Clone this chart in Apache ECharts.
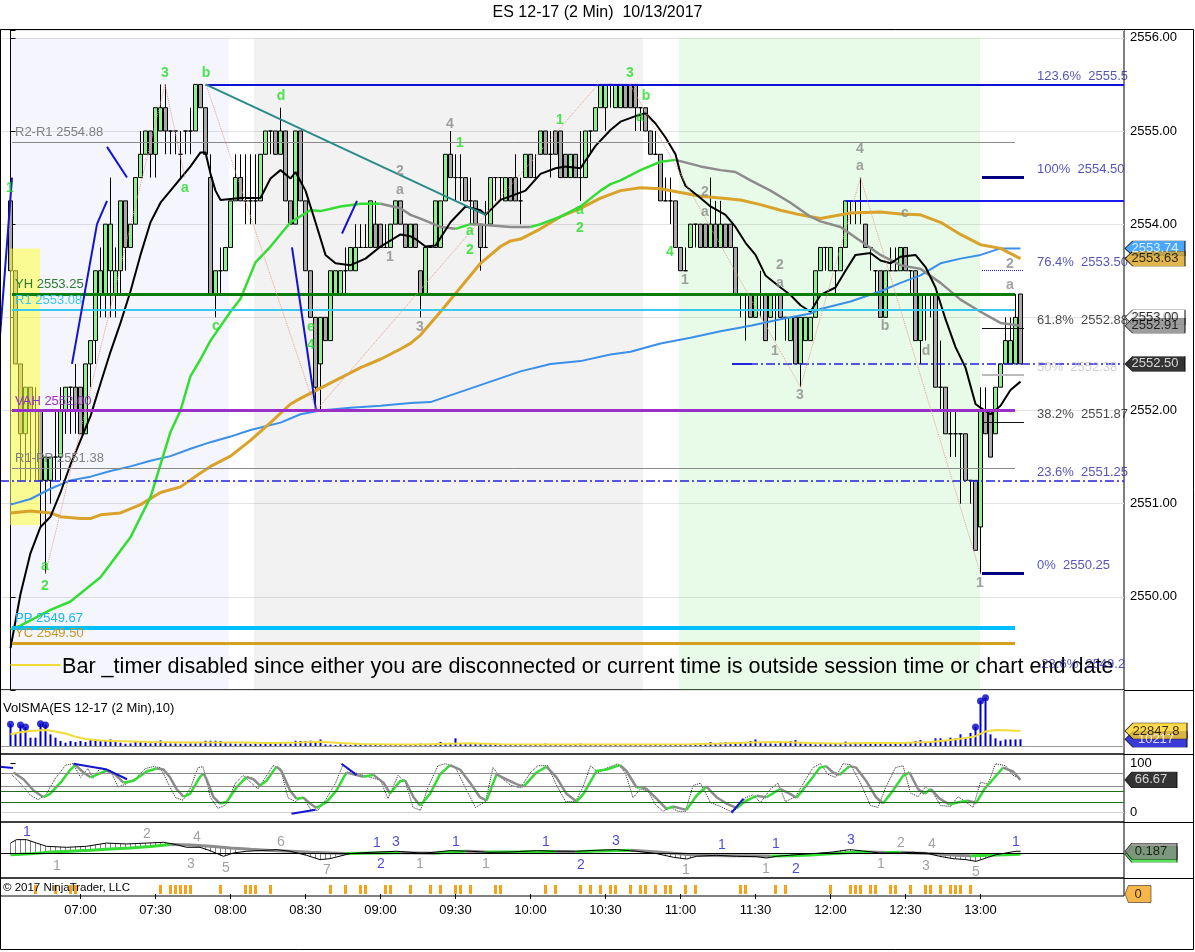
<!DOCTYPE html>
<html><head><meta charset="utf-8">
<script src="https://cdn.jsdelivr.net/npm/echarts@6/dist/echarts.min.js"></script>
<style>html,body{margin:0;padding:0;background:#fff;}#c{width:1195px;height:952px;}</style>
</head><body><div id="c"></div>
<script>
// ---------------- DATA ----------------
const sessionStart = '06:32';
const timeTicks = ['07:00','07:30','08:00','08:30','09:00','09:30','10:00','10:30','11:00','11:30','12:00','12:30','13:00'];
const priceTicks = [2550,2551,2552,2553,2554,2555,2556];

const opens = [
2554.25,2553.5,2552.5,2551.75,2552.25,2552,2552,2551.25,2551.25,2551.5,
2551.5,2552,2552.25,2552.25,2552.25,2551.75,2552.5,2552.75,2553.25,2553.25,
2553.5,2553.25,2553.5,2554.25,2553.75,2554,2554.5,2554.75,2555,2554.75,
2555,2555.25,2555,2555,2554.75,2555,2555,2555,2555.5,2555.25,
2554.5,2553.25,2553.5,2553.5,2553.75,2554.25,2554.5,2554.25,2554.25,2554.25,
2554.25,2554.75,2555,2555,2554.75,2555,2554.25,2554,2555,2554.25,
2553.5,2553,2552.5,2553,2552.75,2553.25,2553.25,2553.5,2553.5,2553.5,
2553.75,2553.75,2553.75,2554,2554,2553.75,2553.75,2554,2554.25,2554,
2553.75,2554,2553.5,2553.25,2553.75,2553.75,2553.75,2554.25,2554.75,2554.5,
2554.5,2554.5,2554.25,2554.25,2554,2553.75,2554,2554.5,2554.5,2554.25,
2554.5,2554.5,2554.25,2554.5,2554.75,2554.5,2554.75,2555,2554.75,2555,
2555,2554.75,2554.5,2554.75,2554.5,2554.5,2555,2555,2555.25,2555.25,
2555.5,2555.25,2555.25,2555.5,2555.5,2555.5,2555.25,2555.25,2555,2554.75,
2554.75,2554.25,2554.25,2554.25,2553.75,2553.5,2553.75,2554,2554,2554,
2553.75,2554,2553.75,2554,2554,2553.75,2553.25,2553.25,2553.25,2553,
2553.25,2553.25,2553,2553.25,2553.25,2553,2552.75,2553,2552.5,2552.75,
2552.75,2553,2553.5,2553.75,2553.5,2553.5,2553.5,2553.75,2554.25,2554.25,
2554.25,2554,2553.75,2553.5,2553.5,2553,2553.5,2553.5,2553.5,2553.75,
2553.5,2553.5,2552.75,2553.25,2553.25,2553.25,2552.25,2552.25,2551.75,2551.75,
2551.75,2551.75,2551.25,2551.25,2550.75,2552,2552,2551.75,2552.25,2552.5,
2552.5,2552.5,2553.25];
const closes = [
2553.5,2552.5,2551.75,2552.25,2552,2552,2551.25,2551.5,2551.5,2551.5,
2552,2552.25,2552.25,2552,2551.75,2552.5,2552.75,2553.5,2553.5,2554,
2554,2553.5,2554.25,2553.75,2554,2554.5,2554.75,2555,2554.75,2555.25,
2555.25,2555,2555,2555,2554.75,2555,2555,2555.5,2555.25,2554.75,
2553.25,2553.5,2553.5,2553.75,2554.25,2554.5,2554.25,2554.25,2554.25,2554.25,
2554.75,2555,2555,2554.75,2555,2554.25,2554,2555,2554.25,2553.5,
2553,2552.25,2553,2552.75,2553.5,2553.5,2553.5,2553.5,2553.75,2553.75,
2553.75,2553.75,2554.25,2553.75,2553.75,2553.75,2554,2554.25,2554,2553.75,
2554,2553.75,2553.25,2553.75,2553.75,2554.25,2554.25,2554.75,2554.5,2554.5,
2554.5,2554.25,2554.25,2554,2553.75,2553.75,2554.5,2554.5,2554.5,2554.5,
2554.25,2554.25,2554.25,2554.75,2554.5,2554.5,2555,2554.75,2554.75,2554.75,
2554.5,2554.5,2554.75,2554.5,2554.5,2555,2555,2555.25,2555.5,2555.5,
2555.5,2555.5,2555.5,2555.25,2555.25,2555.25,2555.25,2555,2554.75,2554.75,
2554.25,2554.25,2554.25,2553.75,2553.5,2553.5,2554,2554,2553.75,2553.75,
2554,2553.75,2554,2553.75,2553.75,2553.25,2553.25,2553.25,2553,2553.25,
2553.25,2552.75,2553.25,2553.25,2553,2553,2553,2552.5,2553,2553,
2553,2553.5,2553.75,2553.75,2553.75,2553.5,2553.75,2554.25,2554.25,2554.25,
2554.25,2553.75,2553.75,2553.5,2553,2553.5,2553.5,2553.5,2553.75,2553.5,
2553.5,2552.75,2553.25,2553.25,2553.25,2552.25,2552.25,2551.75,2551.75,2551.75,
2551.75,2551.25,2551.25,2550.5,2552,2551.75,2551.5,2552.25,2552.5,2552.75,
2552.75,2553,2552.5];
const lows = [
2553.5,2552.5,2551.25,2551.25,2551.25,2551.25,2550.75,2550.25,2551,2551.25,
2551.25,2551.75,2551.75,2551.75,2551.75,2551.75,2552.25,2552.5,2553,2553,
2553,2553,2553.25,2553.5,2553.75,2554,2554.5,2554.75,2554.5,2554.5,
2555,2554.75,2554.75,2554.75,2554.5,2554.75,2554.75,2555,2555.25,2554.75,
2553.25,2553,2553.25,2553.5,2553.75,2554.25,2554.25,2554,2554,2554,
2554.25,2554.75,2554.75,2554.75,2554.75,2554.25,2554,2554,2554.25,2553.5,
2553,2552,2552,2552.75,2552.75,2553.25,2553.25,2553.25,2553.5,2553.5,
2553.75,2553.75,2553.75,2553.75,2553.75,2553.75,2553.75,2554,2554,2553.75,
2553.75,2553.75,2553,2553.25,2553.75,2553.75,2553.75,2554.25,2554.5,2554.25,
2554.25,2554.25,2554,2554,2553.5,2553.75,2554,2554.25,2554.25,2554.25,
2554.25,2554.25,2554,2554.5,2554.5,2554.5,2554.75,2554.75,2554.5,2554.75,
2554.5,2554.5,2554.5,2554.5,2554.25,2554.5,2554.75,2555,2555.25,2555,
2555.25,2555.25,2555.25,2555.25,2555.25,2555,2555,2555,2554.75,2554.75,
2554.25,2554.25,2554,2553.75,2553.5,2553.5,2553.75,2553.75,2553.75,2553.75,
2553.75,2553.75,2553.75,2553.75,2553.75,2553.25,2553,2552.75,2553,2553,
2553,2552.75,2553,2552.75,2553,2552.75,2552.75,2552.5,2552.25,2552.75,
2552.75,2553,2553.5,2553.5,2553.5,2553.25,2553.5,2553.75,2554,2554,
2554,2553.75,2553.5,2553.25,2553,2553,2553.5,2553.5,2553.5,2553.5,
2553.25,2552.75,2552.5,2552.75,2553,2552.25,2552,2551.75,2551.5,2551.5,
2551,2551.25,2551,2550.5,2550.25,2551.75,2551.5,2551.75,2552.25,2552.5,
2552.5,2552.5,2552.5];
const highs = [
2554.25,2553.5,2552.5,2552.25,2552.25,2552.25,2552,2551.5,2551.5,2552,
2552.25,2552.25,2552.25,2552.5,2552.25,2552.5,2552.75,2553.5,2553.75,2554,
2554.5,2553.75,2554.25,2554.25,2554,2554.5,2555,2555,2555,2555.25,
2555.5,2555.5,2555,2555,2555,2555,2555.25,2555.5,2555.5,2555.25,
2554.75,2553.5,2553.75,2553.75,2554.25,2554.75,2554.75,2554.75,2554.75,2554.75,
2554.75,2555,2555,2555,2555.25,2555,2554.25,2555,2555,2554.25,
2553.5,2553,2553,2553,2553.5,2553.5,2553.5,2553.75,2553.75,2554,
2554,2554,2554.25,2554.25,2554,2554,2554,2554.25,2554.25,2554,
2554,2554,2553.5,2553.75,2553.75,2554.25,2554.25,2554.75,2555,2554.75,
2554.75,2554.5,2554.5,2554.25,2554,2554.25,2554.5,2554.5,2554.5,2554.5,
2554.5,2554.75,2554.5,2554.75,2554.75,2554.75,2555,2555,2555,2555,
2555,2554.75,2554.75,2554.75,2555,2555,2555,2555.25,2555.5,2555.5,
2555.5,2555.5,2555.5,2555.5,2555.5,2555.5,2555.25,2555.25,2555,2555,
2554.75,2554.5,2554.5,2554.25,2553.75,2553.75,2554,2554,2554,2554,
2554.5,2554.25,2554.25,2554,2554,2553.75,2553.25,2553.25,2553.25,2553.25,
2553.5,2553.25,2553.25,2553.25,2553.25,2553,2553,2553,2553,2553,
2553,2553.5,2553.75,2553.75,2553.75,2553.5,2553.75,2554.25,2554.25,2554.25,
2554.5,2554,2553.75,2553.5,2553.5,2553.5,2553.75,2553.75,2553.75,2553.75,
2553.5,2553.5,2553.25,2553.25,2553.25,2553.25,2552.75,2552.25,2552,2552,
2551.75,2551.75,2551.25,2551.25,2552.25,2552.25,2552,2552.25,2552.5,2553,
2553,2553.25,2553.25];

// moving averages: [bar, price]
const maFast = [[0,2549.45],[2,2550.03],[4,2550.47],[6,2550.75],[8,2550.86],[10,2551.12],[12,2551.42],[14,2551.68],[16,2551.94],[18,2552.29],[20,2552.63],[22,2552.94],[24,2553.28],[26,2553.67],[28,2554.02],[30,2554.23],[32,2554.36],[34,2554.49],[36,2554.62],[38,2554.77],[39,2554.77],[40,2554.54],[41,2554.36],[42,2554.26],[46,2554.28],[50,2554.28],[52,2554.49],[54,2554.58],[56,2554.49],[57,2554.56],[59,2554.36],[61,2554.02],[63,2553.67],[65,2553.58],[68,2553.56],[71,2553.63],[74,2553.76],[78,2553.89],[80,2553.87],[81,2553.84],[83,2553.76],[85,2553.77],[88,2554.02],[91,2554.19],[94,2554.15],[95,2554.10],[98,2554.26],[101,2554.32],[103,2554.36],[106,2554.54],[109,2554.60],[111,2554.62],[114,2554.60],[117,2554.84],[120,2555.01],[122,2555.10],[125,2555.16],[127,2555.19],[129,2555.08],[131,2554.93],[133,2554.75],[134,2554.54],[135,2554.41],[138,2554.28],[140,2554.19],[143,2554.10],[145,2553.97],[147,2553.80],[149,2553.67],[151,2553.45],[154,2553.32],[156,2553.24],[158,2553.13],[160,2553.06],[162,2553.24],[165,2553.32],[167,2553.50],[169,2553.67],[172,2553.69],[174,2553.61],[176,2553.58],[178,2553.65],[181,2553.67],[183,2553.54],[185,2553.32],[187,2552.98],[189,2552.68],[191,2552.46],[193,2552.07],[194,2552.03],[196,2551.96],[198,2552.05],[200,2552.22],[202,2552.31]];
const maMid = [[0,2549.65],[2,2549.69],[8,2549.86],[12,2549.95],[18,2550.21],[24,2550.64],[28,2551.07],[32,2551.77],[34,2552.0],[36,2552.37],[38,2552.55],[40,2552.75],[44,2553.06],[46,2553.2],[49,2553.59],[52,2553.76],[56,2554.02],[60,2554.15],[62,2554.14],[66,2554.19],[70,2554.22],[74,2554.22],[78,2554.17],[80,2554.10],[82,2554.06],[86,2553.97],[89,2553.95],[92,2554.0],[95,2553.99],[100,2553.97],[104,2553.97],[106,2554.0],[110,2554.08],[114,2554.19],[118,2554.36],[120,2554.43],[122,2554.47],[126,2554.58],[130,2554.67],[133,2554.69],[138,2554.62],[142,2554.58],[145,2554.56],[148,2554.47],[152,2554.36],[156,2554.23],[160,2554.08],[162,2554.03],[166,2553.97],[170,2553.82],[174,2553.67],[178,2553.56],[182,2553.52],[186,2553.37],[190,2553.19],[194,2553.06],[198,2552.94],[202,2552.91]];
const maMidGreenRanges = [[0,74],[89,92],[104,133]];
const maSlow = [[0,2550.90],[4,2550.92],[8,2550.90],[10,2550.86],[14,2550.84],[16,2550.84],[18,2550.88],[22,2550.90],[26,2550.99],[30,2551.12],[34,2551.18],[38,2551.33],[40,2551.40],[44,2551.51],[48,2551.68],[52,2551.87],[56,2552.07],[58,2552.13],[62,2552.24],[66,2552.35],[70,2552.46],[74,2552.55],[78,2552.66],[80,2552.72],[82,2552.81],[86,2553.06],[90,2553.32],[94,2553.58],[98,2553.76],[100,2553.82],[102,2553.84],[106,2553.95],[110,2554.08],[114,2554.17],[118,2554.28],[120,2554.32],[122,2554.36],[126,2554.39],[130,2554.38],[134,2554.34],[138,2554.30],[142,2554.28],[146,2554.26],[150,2554.21],[154,2554.15],[158,2554.10],[162,2554.06],[168,2554.12],[174,2554.13],[178,2554.11],[182,2554.10],[186,2554.02],[190,2553.89],[194,2553.78],[198,2553.74],[202,2553.63]];
const maLong = [[0,2550.99],[4,2551.05],[8,2551.16],[12,2551.25],[16,2551.29],[20,2551.35],[24,2551.40],[28,2551.46],[32,2551.51],[36,2551.59],[40,2551.66],[44,2551.72],[48,2551.79],[54,2551.87],[58,2551.96],[62,2552.0],[68,2552.03],[74,2552.05],[80,2552.08],[84,2552.09],[90,2552.20],[96,2552.31],[102,2552.42],[108,2552.50],[114,2552.53],[120,2552.60],[124,2552.63],[130,2552.72],[136,2552.78],[142,2552.85],[148,2552.91],[154,2552.98],[160,2553.04],[162,2553.09],[168,2553.17],[174,2553.28],[178,2553.37],[182,2553.45],[186,2553.58],[190,2553.63],[194,2553.67],[198,2553.74],[202,2553.74]];

// horizontal levels
const levelNames  = ['R2-R1','YH','R1','VAH','R1-PP','PP','YC'];
const levelPrices = [2554.88,2553.25,2553.08,2552.00,2551.38,2549.67,2549.50];
const fibTexts  = ['123.6%  2555.5','100%  2554.50','76.4%  2553.50','61.8%  2552.88','50%  2552.38','38.2%  2551.87','23.6%  2551.25','0%  2550.25','-23.6%  2549.2'];
const fibPrices = [2555.5,2554.5,2553.5,2552.88,2552.38,2551.87,2551.25,2550.25,2549.19];
const lastPrices = {ma34:2553.74, ma50:2553.63, r1:2553.00, ma21:2552.91, last:2552.50};

// drawn objects (bar, price)
const trendTeal = [[39,2555.5],[95,2554.1]];
const blueSegs = [[[-2.1,2552.8],[0.3,2554.5]],[[12.3,2552.5],[17.3,2554.0]],[[17.3,2554.0],[19.3,2554.25]],[[19.3,2554.83],[23.3,2554.5]],[[56.3,2553.75],[61.1,2552.0]],[[66.3,2553.9],[69.3,2554.25]]];
const zigzag = [[[7,2550.25],[30.9,2555.5]],[[30.9,2555.5],[34.9,2554.5]],[[39.1,2555.5],[61.1,2552.0]],[[61.1,2552.0],[117.5,2555.5]],[[123.9,2555.5],[158,2552.25]],[[158,2552.25],[170,2554.5]],[[170,2554.5],[194,2550.25]]];
const greenWave = [[30.9,2555.62,'3'],[39.1,2555.62,'b'],[34.9,2554.39,'a'],[6.9,2550.33,'a'],[6.9,2550.11,'2'],[-0.1,2554.39,'1'],[54.1,2555.37,'d'],[41.1,2552.91,'c'],[60.1,2552.90,'e'],[60.1,2552.70,'4'],[89.9,2554.87,'1'],[91.9,2553.92,'a'],[91.9,2553.72,'2'],[109.9,2555.12,'1'],[113.9,2554.15,'a'],[113.9,2553.96,'2'],[123.9,2555.62,'3'],[127.1,2555.37,'b'],[125.9,2555.15,'a'],[131.9,2553.70,'4']];
const grayWave = [[77.9,2554.57,'2'],[77.9,2554.37,'a'],[75.9,2553.65,'1'],[81.9,2552.90,'3'],[87.9,2555.07,'4'],[134.9,2553.40,'1'],[138.9,2554.34,'2'],[138.9,2554.13,'a'],[153.9,2553.56,'2'],[153.9,2553.37,'a'],[152.9,2552.64,'1'],[157.9,2552.17,'3'],[169.9,2554.81,'4'],[169.9,2554.62,'a'],[174.9,2552.91,'b'],[178.9,2554.12,'c'],[183.1,2552.64,'d'],[193.9,2550.15,'1'],[199.9,2553.57,'2'],[199.9,2553.35,'a']];

// volume
const volume = [
33000,18000,32000,29000,12700,12700,34000,32000,17700,12700,
7600,5000,7600,6000,7600,6000,9000,7600,7600,7600,
10000,6000,5000,3500,4000,7600,7600,5000,4000,5000,
8500,5000,4000,4000,3500,3500,4000,4000,5000,8000,
8000,8000,7600,5000,4000,3500,3500,4000,3000,3500,
3500,4000,4000,3500,6000,4000,3500,8000,7600,7600,
8000,7600,10000,2500,2000,1500,2500,2000,1500,2500,
2000,2500,1500,2000,2500,2000,1500,2500,2000,3000,
2500,2000,3500,2000,2500,3000,6000,3500,3000,11700,
4000,3500,3000,3500,3000,2500,3500,2500,2000,2500,
2000,1500,2000,2500,2000,1500,2000,3500,2000,2500,
1500,2000,2500,2000,3500,2500,2000,2500,2000,3000,
2500,2000,2500,2000,2500,3000,2000,2500,2000,2500,
2000,2500,3000,2500,2000,2500,2000,3000,2000,2500,
6000,4000,5000,6000,4000,6000,5000,4000,7600,10000,
5000,4000,4000,3500,4500,5000,7600,9000,4000,3500,
3000,2500,3000,3500,3000,3500,3000,6600,4000,5000,
4000,4500,5000,5000,4000,3500,4000,4500,5000,6000,
5000,7600,9000,6000,5000,11700,11700,8000,12700,11700,
17800,12700,20000,29000,68500,73600,17800,11700,8000,10000,
10000,10000,10217];
const volDotBars = [0,2,3,6,7,193,194,195];
const volSma = [[0,18000],[2,21000],[4,23000],[7,24500],[9,22000],[11,19000],[13,14000],[15,10500],[18,8200],[22,7300],[28,6000],[34,5200],[40,5500],[46,5300],[52,4500],[58,5500],[62,6500],[66,4500],[70,3000],[76,2200],[82,2300],[88,3500],[92,4200],[98,2800],[106,2300],[116,2400],[126,2400],[136,2500],[142,3800],[148,5500],[154,6000],[160,4500],[166,3700],[172,4500],[178,4600],[184,6000],[188,9000],[191,12000],[193,15000],[195,22000],[197,24500],[199,24000],[202,22847.8]];

// stochastics
const stochD = [[0.6,82],[2.6,68],[4.6,45],[6.6,31],[7.9,38],[10,61],[12,88],[13,97],[14.6,82],[16,72],[17.2,77],[19.2,86],[20.9,78],[22.6,61],[24.6,65],[27.2,84],[29.2,90],[30.6,88],[31.9,72],[33.2,48],[34.6,32],[35.9,38],[37.9,73],[38.6,80],[39.2,68],[40.6,31],[41.9,18],[43.2,21],[45.2,51],[47.2,73],[48.6,68],[49.9,55],[51.2,65],[53.2,94],[54.2,85],[55.9,45],[57.2,28],[58.6,30],[59.9,18],[61.2,9],[63.2,21],[65.2,45],[67.2,82],[68.6,78],[70.6,73],[72.6,77],[74.6,61],[75.9,39],[77.9,64],[78.9,66],[80.6,31],[81.9,14],[83.9,38],[85.9,78],[87.9,97],[89.9,88],[91.9,61],[93.9,31],[95.2,24],[97.2,78],[99.2,68],[101.2,58],[102.6,53],[105.2,82],[107.2,94],[109.2,72],[111.2,38],[113.2,22],[114.6,38],[117.2,85],[119.2,88],[121.9,97],[123.2,85],[125.2,51],[126.2,52],[127.2,48],[129.2,28],[131.2,7],[132.5,12],[134,8],[135.2,5],[137.2,34],[139.2,53],[141.2,31],[143.2,18],[145.2,9],[147.2,24],[149.2,34],[151.2,31],[153.9,48],[155.9,38],[157.2,30],[159.9,65],[161.9,92],[163.1,95],[164.5,82],[165.8,77],[167.8,95],[169.1,92],[171.1,65],[173.1,31],[174.5,18],[176.5,45],[178.5,75],[179.8,82],[181.5,48],[182.8,38],[184.1,48],[185.8,28],[187.8,16],[189.8,21],[191.5,24],[193.1,19],[194.8,48],[196.5,68],[198.5,92],[200.5,84],[202,66.67]];
const stochK = [[0,80],[2,60],[4,35],[5.5,26],[7,35],[9,70],[11,97],[12.5,100],[14,72],[15.5,90],[16.5,70],[18,92],[20,86],[21.5,52],[23,58],[25,70],[27,90],[28.5,94],[30,92],[31.5,60],[33,30],[34.5,25],[36,50],[37.5,92],[38.5,94],[40,30],[41.5,8],[43,15],[45,60],[46.5,76],[48,62],[49.5,48],[51,72],[52.5,96],[54,90],[55.5,30],[57,22],[58.5,32],[60,6],[61.5,4],[63,25],[65,60],[66.5,98],[68,84],[70,78],[72,72],[74,66],[75.5,28],[77.5,76],[79,62],[80.5,10],[82,4],[83.5,52],[85.5,96],[87,100],[89,92],[91,50],[93,10],[95,22],[96.5,92],[98,72],[100,56],[102,50],[104,82],[105.5,96],[107.5,96],[109,60],[111,22],[113,22],[114.5,52],[116,96],[117.5,82],[119,90],[121.5,100],[123,80],[124.5,30],[126,48],[127.5,44],[129,16],[130.5,2],[132,10],[133.5,2],[135,2],[136.5,55],[138,60],[140,20],[142,12],[144,2],[145.5,8],[147,30],[148.5,36],[150,20],[152,48],[153.5,60],[155,22],[157,32],[158.5,58],[160.5,92],[162,100],[163.5,78],[165,72],[166.5,100],[168,98],[170,60],[172,14],[173.5,10],[175,50],[177,92],[178.5,96],[180,40],[181.5,32],[183,52],[184.5,40],[186,14],[188,12],[189.5,32],[191,22],[192.5,10],[194,62],[195.5,58],[197,100],[199,96],[200.5,76],[202,70]];
const stochLevels = [80,53,44,20,0];
const stochBlue = [[[-2.1,94],[0.5,91]],[[12.6,100],[19.3,88]],[[19.3,88],[23.3,68]],[[56.2,-3],[61,5]],[[66.2,100],[69.2,77]],[[144.2,-1],[146.6,28]]];

// oscillator
const oscLine = [[0,1.1],[1.2,1.48],[3.2,1.48],[5.2,1.1],[7.2,0.74],[11.2,0.63],[15.2,0.74],[19.2,1.1],[23.2,1.0],[27.2,1.1],[30.6,1.18],[33.2,0.93],[35.2,0.63],[37.9,0.63],[39.9,0.26],[42.6,-0.37],[44.6,0],[47.2,0.19],[49.9,0.26],[53.2,0.37],[55.9,0.19],[59.2,-0.26],[61.9,-0.74],[63.9,-0.63],[67.9,-0.07],[71.9,0.07],[77.2,0.19],[81.9,0],[83.9,0.04],[87.9,0.26],[91.9,0.19],[95.9,0.07],[99.9,0.11],[105.2,0.26],[109.2,0.19],[113.2,0.19],[117.2,0.3],[121.2,0.37],[125.2,0.19],[129.2,-0.07],[132.6,-0.48],[135.2,-0.67],[137.2,-0.37],[141.2,-0.26],[145.2,-0.37],[149.2,-0.41],[151.2,-0.56],[153.2,-0.37],[157.2,-0.19],[161.2,-0.04],[164.5,0.11],[167.8,0.37],[171.1,0.19],[173.8,0],[177.8,0],[180.5,0.07],[183.1,0],[185.8,-0.37],[188.5,-0.63],[191.1,-0.74],[193.1,-0.93],[195.1,-0.56],[197.1,-0.19],[199.1,0],[201.1,0.19],[202,0.187]];
const oscSignal = [[0,-0.19],[4,-0.1],[8,0.1],[12,0.2],[16,0.3],[20,0.45],[24,0.56],[28,0.72],[32,0.93],[36,0.88],[40,0.74],[44,0.55],[48,0.4],[52,0.28],[56,0.18],[60,0.07],[64,0.0],[67,-0.07],[70,-0.03],[74,0.0],[78,0.02],[82,0.0],[85,-0.02],[88,0.12],[91,0.2],[93,0.15],[95,0.1],[98,0.12],[102,0.13],[106,0.15],[109,0.17],[111,0.15],[113,0.12],[116,0.18],[120,0.26],[124,0.3],[128,0.15],[132,0.0],[136,-0.2],[140,-0.28],[144,-0.3],[148,-0.32],[152,-0.35],[156,-0.3],[160,-0.22],[164,-0.1],[168,0.05],[172,0.1],[175,0.05],[178,0.07],[181,0.0],[185,-0.08],[189,-0.25],[192,-0.32],[196,-0.26],[199,-0.2],[202,-0.15]];
const oscHatch = [[0,1.1,-0.19],[1,1.4,-0.17],[2,1.48,-0.15],[3,1.48,-0.12],[4,1.35,-0.1],[5,1.15,-0.05],[6,0.95,0],[7,0.78,0.1],[8,0.72,0.1],[9,0.68,0.12],[10,0.65,0.15],[11,0.63,0.18],[12,0.64,0.2],[13,0.66,0.22],[14,0.7,0.25],[15,0.74,0.28],[16,0.8,0.3],[17,0.9,0.33],[18,1.0,0.36],[19,1.1,0.4],[20,1.08,0.45],[21,1.05,0.48],[22,1.02,0.52],[23,1.0,0.55],[24,1.02,0.58],[25,1.05,0.62],[26,1.08,0.66],[27,1.1,0.7],[28,1.12,0.75],[29,1.15,0.8],[30,1.18,0.86],[31,1.1,0.9],[32,1.0,0.93],
[39,0.3,0.78],[40,0.1,0.74],[41,-0.15,0.7],[42,-0.35,0.65],[43,-0.3,0.6],[44,-0.05,0.55],[45,0.05,0.52],
[58,-0.1,0.1],[59,-0.26,0.08],[60,-0.45,0.07],[61,-0.65,0.06],[62,-0.74,0.05],[63,-0.7,0.03],[64,-0.55,0.0],[65,-0.4,-0.03],[66,-0.25,-0.07],
[129,-0.07,0.12],[130,-0.2,0.08],[131,-0.3,0.05],[132,-0.45,0],[133,-0.58,-0.07],[134,-0.64,-0.12],[135,-0.67,-0.2],[136,-0.55,-0.25],[137,-0.37,-0.27],
[165,0.2,-0.08],[166,0.3,-0.05],[167,0.35,0],[168,0.37,0.05],[169,0.3,0.07],[170,0.25,0.09],
[184,-0.1,-0.05],[185,-0.3,-0.08],[186,-0.45,-0.12],[187,-0.55,-0.16],[188,-0.63,-0.2],[189,-0.68,-0.25],[190,-0.72,-0.3],[191,-0.75,-0.3],[192,-0.85,-0.3],[193,-0.93,-0.3],[194,-0.75,-0.3],[195,-0.56,-0.28],[196,-0.4,-0.25]];
const oscBlueLabels = [[3.3,2.33,'1'],[73.3,1.11,'1'],[77.1,1.22,'3'],[89.1,1.22,'1'],[107.1,1.22,'1'],[121.1,1.33,'3'],[142.3,0.89,'1'],[153.1,1.0,'1'],[168.1,1.44,'3'],[201.1,1.22,'1'],[74.1,-1.22,'2'],[114.1,-1.33,'2'],[157.1,-1.78,'2']];
const oscGrayLabels = [[9.3,-1.44,'1'],[27.3,2.11,'2'],[37.3,1.78,'4'],[36.1,-1.22,'3'],[43.1,-1.67,'5'],[54.1,1.22,'6'],[63.3,-1.89,'7'],[81.9,-1.22,'1'],[95.1,-1.22,'1'],[135.1,-1.89,'1'],[151.1,-1.78,'1'],[174.1,-1.22,'1'],[178.1,1.11,'2'],[184.3,1.0,'4'],[183.1,-1.44,'3'],[193.1,-2.1,'5']];

// orange signal markers
const signalBars = [5,9,12,13,30,32,33,34,35,36,42,47,48,49,52,64,67,70,71,75,76,80,84,86,89,90,92,97,98,107,109,114,116,118,120,121,124,126,127,129,131,132,135,137,146,147,153,155,164,168,169,170,172,173,176,177,180,183,184,186,188,189,190,192];

// ---------------- CHART ----------------
const FONT = "Arial, 'Liberation Sans', Helvetica, sans-serif";
const X_MIN = -2.1, X_MAX = 222.7;
const toMin = t => { const a = t.split(':').map(Number); return a[0]*60 + a[1]; };
const tickIdx = timeTicks.map(t => (toMin(t) - toMin(sessionStart)) / 2);

const GREEN = '#33dd33', GRAY = '#8c8c8c';
function colorRuns(pts, colorOf) {
  const runs = []; let cur = null, prev = null;
  for (let j = 0; j < pts.length - 1; j++) {
    const c = colorOf(pts[j], pts[j+1], prev); prev = c;
    if (cur && cur.color === c) cur.pts.push(pts[j+1]);
    else { cur = {color: c, pts: [pts[j], pts[j+1]]}; runs.push(cur); }
  }
  return runs;
}
const slopeColor = (a, b, prev) => b[1] > a[1] ? GREEN : (b[1] < a[1] ? GRAY : (prev || GREEN));
const inGreen = (a, b) => { const m = (a[0]+b[0])/2; return maMidGreenRanges.some(r => m >= r[0] && m <= r[1]) ? GREEN : GRAY; };
function runSeries(runs, g, w, z) {
  return runs.map(r => ({type:'line', xAxisIndex:g, yAxisIndex:g, data:r.pts, showSymbol:false, symbol:'none', silent:true, z:z, lineStyle:{color:r.color, width:w}}));
}
function lineSeries(pts, g, color, w, z, type) {
  return {type:'line', xAxisIndex:g, yAxisIndex:g, data:pts, showSymbol:false, symbol:'none', silent:true, z:z, lineStyle:{color:color, width:w, type:type||'solid'}};
}
function seg(p1, p2, style, label) {
  return [{coord:p1, lineStyle:style, label: label || {show:false}}, {coord:p2}];
}
function textSeries(g, items, color, size, weight, z) {
  return {type:'scatter', xAxisIndex:g, yAxisIndex:g, symbolSize:0, silent:true, z:z||6,
    data: items.map(d => ({name:d[2], value:[d[0], d[1]]})),
    label:{show:true, position:'inside', formatter:p => p.name, color:color, fontSize:size, fontWeight:weight, fontFamily:FONT}};
}
const TAG_PATH = 'path://M0,8L8,0L62,0L62,16L8,16Z';
function tagSeries(g, tags, size) {
  return {type:'scatter', xAxisIndex:g, yAxisIndex:g, clip:false, silent:true, z:20,
    symbol:TAG_PATH, symbolSize:size, symbolKeepAspect:false, symbolOffset:[size[0]/2 + 1, 0],
    data: tags.map(t => ({name:t[1], value:[X_MAX, t[0]], itemStyle:{color:t[2], borderColor:'#000', borderWidth:0.6}, label:{color:t[3]}})),
    label:{show:true, position:'inside', formatter:p => p.name, fontSize:13, fontFamily:FONT}};
}

const grids = [
  {left:0, width:1124, top:30, height:660},
  {left:0, width:1124, top:690, height:64},
  {left:0, width:1124, top:754, height:68},
  {left:0, width:1124, top:822, height:56},
  {left:0, width:1124, top:878, height:18}
].map(g => Object.assign(g, {show:true, borderColor:'#000', borderWidth:1, containLabel:false}));

const xAxes = grids.map((g, k) => {
  const bottom = k === 4;
  return {type:'value', gridIndex:k, min:X_MIN, max:X_MAX, axisLine:{show:false}, splitLine:{show:false},
    axisTick: bottom ? {show:true, customValues:tickIdx, length:5, lineStyle:{color:'#000'}} : {show:false},
    axisLabel: bottom ? {show:true, customValues:tickIdx, formatter:v => timeTicks[tickIdx.indexOf(Math.round(v))] || '', color:'#000', fontSize:13, fontFamily:FONT, margin:8} : {show:false}};
});
const yAxes = [
  {type:'value', gridIndex:0, position:'right', min:2549, max:2556.084, interval:1,
   axisLine:{show:true, lineStyle:{color:'#000'}}, axisTick:{show:true, length:5, lineStyle:{color:'#000'}},
   axisLabel:{formatter:v => priceTicks.indexOf(v) >= 0 ? v.toFixed(2) : '', color:'#000', fontSize:13, fontFamily:FONT, margin:6},
   splitLine:{show:true, lineStyle:{color:'#e3e3e3'}}},
  {type:'value', gridIndex:1, position:'right', min:-12200, max:85300, axisLine:{show:false}, axisTick:{show:false}, axisLabel:{show:false}, splitLine:{show:false}},
  {type:'value', gridIndex:2, position:'right', min:-20, max:120, interval:20, axisLine:{show:false},
   axisTick:{show:true, customValues:[0,100], length:5, lineStyle:{color:'#000'}},
   axisLabel:{customValues:[0,100], color:'#000', fontSize:13, fontFamily:FONT, margin:6}, splitLine:{show:false}},
  {type:'value', gridIndex:3, position:'right', min:-2.78, max:3.44, axisLine:{show:false}, axisTick:{show:false}, axisLabel:{show:false}, splitLine:{show:false}},
  {type:'value', gridIndex:4, position:'right', min:-0.25, max:2, axisLine:{show:false}, axisTick:{show:false}, axisLabel:{show:false}, splitLine:{show:false}}
];

// --- main panel marklines ---
const levelStyle = [['#8a8a8a',1],['#0a7d0a',3],['#38c8f0',2],['#9b30c8',3],['#8a8a8a',1],['#00bfff',4],['#d4a020',3]];
const levelLabelColor = ['#808080','#2e7d2e','#38c8f0','#9b30c8','#808080','#19b5ef','#c9971c'];
const mainLines = [];
levelPrices.forEach((v, k) => {
  mainLines.push(seg([0.3, v], [200.9, v], {color:levelStyle[k][0], width:levelStyle[k][1], type:'solid'},
    {show:true, position:'insideStartTop', distance:3, formatter: levelNames[k] + ' ' + v.toFixed(2), color:levelLabelColor[k], fontSize:13, fontFamily:FONT}));
});
const DASHDOT = [9,3,2,3];
mainLines.push(seg([39, fibPrices[0]], [X_MAX, fibPrices[0]], {color:'#1010d8', width:2, type:'solid'}));
mainLines.push(seg([167, 2554.25], [X_MAX, 2554.25], {color:'#1a1aee', width:2, type:'solid'}));
mainLines.push(seg([144.3, lastPrices.last], [X_MAX, lastPrices.last], {color:'#2222dd', width:1.5, type:DASHDOT}));
mainLines.push(seg([144.3, lastPrices.last], [148.3, lastPrices.last], {color:'#2222dd', width:2, type:'solid'}));
mainLines.push(seg([X_MIN, fibPrices[6]], [X_MAX, fibPrices[6]], {color:'#2222dd', width:1.5, type:DASHDOT}));
const fibShort = [[1,'#000080',3,'solid'],[2,'#2222dd',1,'dotted'],[3,'#111',1,'solid'],[4,'#bbbbbb',2,'solid'],[5,'#111',1,'solid'],[7,'#000080',3,'solid']];
fibShort.forEach(f => mainLines.push(seg([194.3, fibPrices[f[0]]], [202.7, fibPrices[f[0]]], {color:f[1], width:f[2], type:f[3]})));
mainLines.push(seg([0, 2549.27], [10, 2549.27], {color:'#f0dc30', width:2, type:'solid'}));
mainLines.push(seg(trendTeal[0], trendTeal[1], {color:'#2a8a8a', width:2, type:'solid'}));
blueSegs.forEach(s => mainLines.push(seg(s[0], s[1], {color:'#1414cc', width:2, type:'solid'})));
zigzag.forEach(s => mainLines.push(seg(s[0], s[1], {color:'#e8a090', width:1, type:'dotted'})));

const candleData = opens.map((o, i) => [i, o, closes[i], lows[i], highs[i]]);
const bgBands = [[-0.1, 43.7, 'rgba(80,80,220,0.055)'], [48.7, 126.5, 'rgba(0,0,0,0.05)'], [133.7, 193.9, 'rgba(30,210,30,0.10)']];

const series = [];
series.push({type:'candlestick', xAxisIndex:0, yAxisIndex:0, data:candleData, barWidth:4, z:2, silent:true,
  itemStyle:{color:'#90ee90', color0:'#a8a8a8', borderColor:'#000', borderColor0:'#000', borderWidth:1},
  markArea:{silent:true, label:{show:false}, data: bgBands.map(b => [{coord:[b[0], 2556], itemStyle:{color:b[2]}}, {coord:[b[1], 2549]}])}});
// yellow opening-range highlight
series.push({type:'custom', xAxisIndex:0, yAxisIndex:0, z:3, silent:true, data:[[-0.1, 2553.74, 5.9, 2550.77]], encode:{x:[0,2], y:[1,3]},
  renderItem:(p, api) => { const a = api.coord([api.value(0), api.value(1)]); const b = api.coord([api.value(2), api.value(3)]);
    return {type:'rect', shape:{x:a[0], y:a[1], width:b[0]-a[0], height:b[1]-a[1]}, style:{fill:'rgba(255,255,60,0.55)'}}; }});
series.push(lineSeries(maLong, 0, '#3a8fe8', 2, 4));
series.push(lineSeries(maSlow, 0, '#d9a22a', 3, 4));
runSeries(colorRuns(maMid, inGreen), 0, 2.5, 4).forEach(s => series.push(s));
series.push(lineSeries(maFast, 0, '#000', 2, 4));
series.push({type:'line', xAxisIndex:0, yAxisIndex:0, data:[], silent:true, z:5,
  markLine:{silent:true, symbol:['none','none'], animation:false, label:{show:false}, data:mainLines}});
series.push(textSeries(0, greenWave, '#22dd22', 14, 'bold'));
series.push(textSeries(0, grayWave, '#8a8a8a', 14, 'bold'));
series.push({type:'scatter', xAxisIndex:0, yAxisIndex:0, symbolSize:0, silent:true, z:6,
  data: fibPrices.map((v, k) => ({name:fibTexts[k], value:[205.3, v], label:{color: [3,5].indexOf(k) >= 0 ? '#1a1a1a' : (k === 4 ? '#c4c4c4' : '#2a2aa6')}})),
  label:{show:true, position:'right', distance:0, offset:[0,-8], formatter:p => p.name, fontSize:13, fontFamily:FONT}});
series.push(tagSeries(0, [
  [lastPrices.ma34, lastPrices.ma34.toFixed(2), '#1e90ff', '#fff'],
  [lastPrices.ma50, lastPrices.ma50.toFixed(2), '#daa520', '#000'],
  [lastPrices.r1, lastPrices.r1.toFixed(2), '#ffffff', '#000'],
  [lastPrices.ma21, lastPrices.ma21.toFixed(2), '#858585', '#000'],
  [lastPrices.last, lastPrices.last.toFixed(2), '#000000', '#fff']], [60, 15]));

// volume panel
series.push({type:'line', xAxisIndex:1, yAxisIndex:1, data:[], silent:true, z:1,
  markLine:{silent:true, symbol:['none','none'], animation:false, label:{show:false}, data:[seg([X_MIN,0],[X_MAX,0],{color:'#9a9a9a', width:1, type:'solid'})]}});
series.push({type:'bar', xAxisIndex:1, yAxisIndex:1, data: volume.map((v, i) => [i, v]), barWidth:2, silent:true, z:2, itemStyle:{color:'#0000c8'}});
series.push({type:'scatter', xAxisIndex:1, yAxisIndex:1, data: volDotBars.map(i => [i, volume[i]]), symbolSize:7, silent:true, z:3, itemStyle:{color:'#0000c8'}});
series.push(lineSeries(volSma, 1, '#f2dc3a', 2, 4));
series.push(tagSeries(1, [[volume[202], String(volume[202]), '#0a0ad0', '#fff'], [volSma[volSma.length-1][1], volSma[volSma.length-1][1].toFixed(1), '#ffd21f', '#000']], [62, 16]));

// stochastic panel
const stochLevelStyle = [['#888',1],['#888',1],['#1e6e1e',1],['#1e6e1e',1],['#d0d0d0',1]];
const stochLines = stochLevels.map((v, k) => seg([X_MIN, v], [X_MAX, v], {color:stochLevelStyle[k][0], width:stochLevelStyle[k][1], type:'solid'}));
stochBlue.forEach(s => stochLines.push(seg(s[0], s[1], {color:'#1414cc', width:2, type:'solid'})));
series.push({type:'line', xAxisIndex:2, yAxisIndex:2, data:[], silent:true, z:1,
  markLine:{silent:true, symbol:['none','none'], animation:false, label:{show:false}, data:stochLines}});
series.push(lineSeries(stochK, 2, '#222', 1, 3, 'dotted'));
runSeries(colorRuns(stochD, slopeColor), 2, 2.5, 4).forEach(s => series.push(s));
series.push(tagSeries(2, [[stochD[stochD.length-1][1], stochD[stochD.length-1][1].toFixed(2), '#000', '#fff']], [52, 16]));

// oscillator panel
series.push({type:'line', xAxisIndex:3, yAxisIndex:3, data:[], silent:true, z:1,
  markLine:{silent:true, symbol:['none','none'], animation:false, label:{show:false}, data:[seg([X_MIN,0],[X_MAX,0],{color:'#000', width:1, type:'solid'})]}});
series.push({type:'custom', xAxisIndex:3, yAxisIndex:3, z:2, silent:true, data:oscHatch, encode:{x:0, y:[1,2]},
  renderItem:(p, api) => { const x = api.value(0); const a = api.coord([x, api.value(1)]); const b = api.coord([x, api.value(2)]);
    return {type:'line', shape:{x1:a[0], y1:a[1], x2:b[0], y2:b[1]}, style:{stroke:'#7d7d7d', lineWidth:1}}; }});
runSeries(colorRuns(oscSignal, slopeColor), 3, 3, 3).forEach(s => series.push(s));
series.push(lineSeries(oscLine, 3, '#000', 1, 4));
series.push(textSeries(3, oscBlueLabels, '#1a1acc', 14, 'normal'));
series.push(textSeries(3, oscGrayLabels, '#8a8a8a', 14, 'normal'));
series.push(tagSeries(3, [[oscSignal[oscSignal.length-1][1], '', '#33dd33', '#000'], [oscLine[oscLine.length-1][1], oscLine[oscLine.length-1][1].toFixed(3), '#858585', '#000']], [52, 16]));

// signal markers panel
series.push({type:'bar', xAxisIndex:4, yAxisIndex:4, data: signalBars.map(i => [i, 1.125]), barWidth:3, silent:true, z:2, itemStyle:{color:'#f4a41c'}});
series.push(tagSeries(4, [[0, '0', '#f4a41c', '#000']], [26, 17]));

const frameLines = [690, 754, 822, 878].map(y => ({type:'line', silent:true, z:50, shape:{x1:1124, y1:y+0.5, x2:1194, y2:y+0.5}, style:{stroke:'#000', lineWidth:1}}));

const option = {
  animation:false,
  backgroundColor:'#ffffff',
  textStyle:{fontFamily:FONT},
  title:[
    {text:'ES 12-17 (2 Min)  10/13/2017', left:'center', top:5, padding:0, textStyle:{fontSize:16, fontWeight:'normal', color:'#000', fontFamily:FONT}},
    {text:'Bar _timer disabled since either you are disconnected or current time is outside session time or chart end date', left:62, top:656, padding:0, textStyle:{fontSize:21.6, fontWeight:'normal', color:'#000', fontFamily:FONT}},
    {text:'VolSMA(ES 12-17 (2 Min),10)', left:3, top:702, padding:0, textStyle:{fontSize:13, fontWeight:'normal', color:'#000', fontFamily:FONT}},
    {text:'\u00A9 2017 NinjaTrader, LLC', left:3, top:882, padding:0, textStyle:{fontSize:11.5, fontWeight:'normal', color:'#000', fontFamily:FONT}}
  ],
  grid:grids, xAxis:xAxes, yAxis:yAxes, series:series,
  graphic:[{type:'rect', silent:true, z:50, shape:{x:0.5, y:29.5, width:1193, height:920}, style:{fill:null, stroke:'#000', lineWidth:1}}].concat(frameLines)
};
const chart = echarts.init(document.getElementById('c'), null, {renderer:'canvas'});
chart.setOption(option);
</script>
</body></html>
